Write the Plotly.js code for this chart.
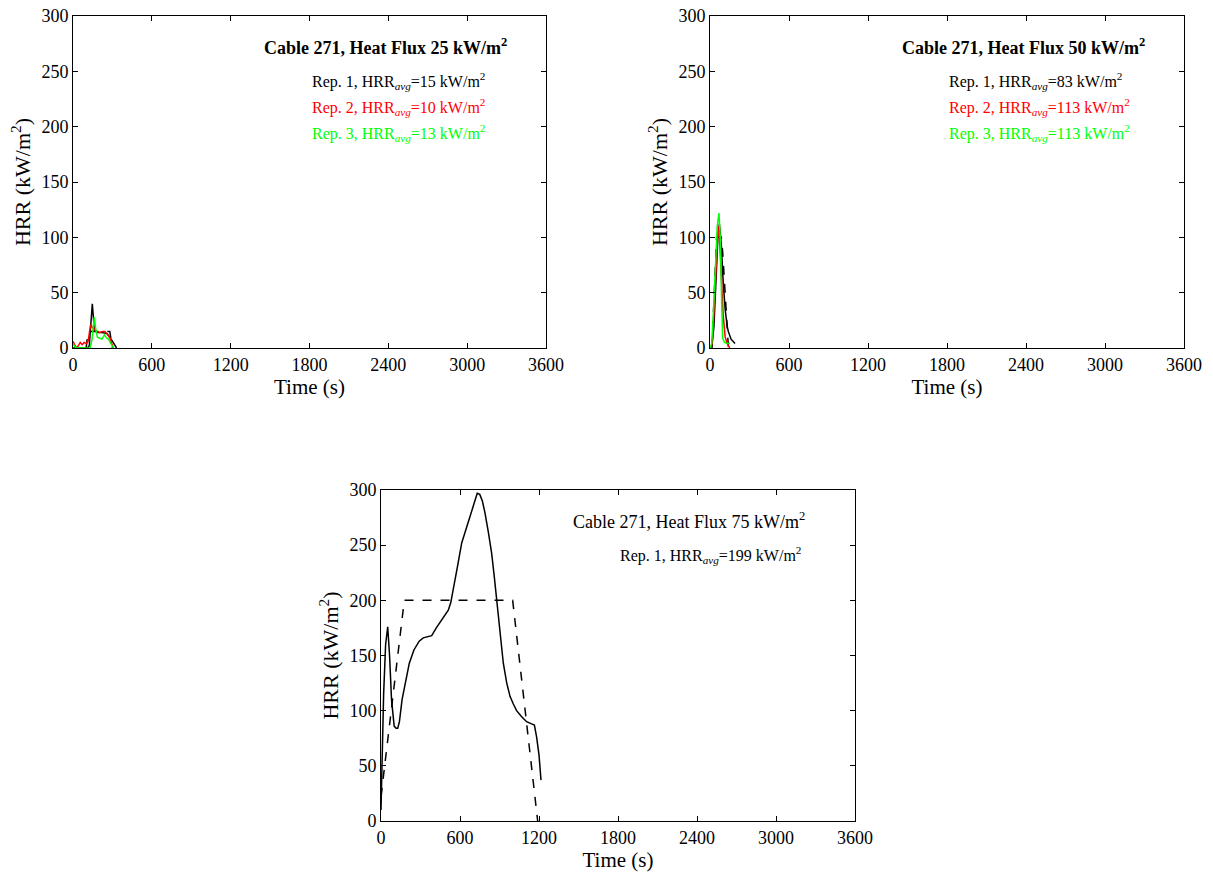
<!DOCTYPE html>
<html>
<head>
<meta charset="utf-8">
<script src="https://cdn.plot.ly/plotly-3.0.1.min.js"></script>
<style>html,body{margin:0;padding:0;background:#fff;}#chart{width:1213px;height:873px;}</style>
</head>
<body>
<div id="chart"></div>
<script>
// ---- Panel 1: Heat Flux 25 kW/m2 ----
const p1_rep1_t = [0, 60, 110, 124, 135, 147, 155, 162, 175, 190, 220, 260, 290, 320, 332];
const p1_rep1_y = [0, 0, 0, 2, 25, 40, 28, 16, 15, 14, 14, 13, 8, 2, 0];
const p1_rep2_t = [0, 10, 25, 40, 55, 70, 85, 100, 115, 125, 134, 145, 160, 180, 205, 225, 244, 262, 282, 295, 307];
const p1_rep2_y = [6, 3, 0, 2, 5, 3, 5, 4, 6, 14, 21, 19, 17, 15, 14, 15, 15, 12, 9, 4, 0];
const p1_rep3_t = [0, 15, 30, 60, 100, 130, 145, 155, 162, 172, 185, 200, 220, 240, 255, 270, 285, 300, 307];
const p1_rep3_y = [4, 1, 0, 0, 0, 0, 8, 22, 28, 18, 10, 9, 8, 12, 9, 8, 5, 1, 0];
const p1_avg_t = [100, 115, 280, 300];
const p1_avg_y = [0, 15, 15, 0];

// ---- Panel 2: Heat Flux 50 kW/m2 ----
const p2_rep1_t = [0, 15, 30, 45, 60, 71, 85, 100, 115, 130, 139, 160, 190];
const p2_rep1_y = [0, 2, 20, 65, 100, 112, 95, 60, 35, 20, 15, 8, 4];
const p2_rep2_t = [0, 10, 20, 35, 50, 62, 72, 85, 100, 115, 130, 150];
const p2_rep2_y = [2, 0, 10, 45, 90, 110, 100, 70, 30, 10, 4, 0];
const p2_rep3_t = [0, 13, 25, 40, 55, 68, 78, 88, 96, 110, 130, 152];
const p2_rep3_y = [0, 4, 30, 75, 110, 122, 100, 45, 9, 5, 4, 4];
const p2_avg_t = [15, 50, 85, 96, 131, 140];
const p2_avg_y = [0, 100, 100, 87, 18, 0];

// ---- Panel 3: Heat Flux 75 kW/m2 ----
const p3_rep1_t = [0, 10, 20, 35, 51, 65, 80, 100, 115, 127, 140, 160, 190, 215, 250, 290, 321, 350, 385, 420, 448, 480, 511, 530, 549, 580, 613, 645, 676, 705, 731, 750, 770, 790, 815, 840, 860, 878, 905, 929, 955, 980, 1005, 1030, 1065, 1106, 1144, 1165, 1182, 1200, 1215];
const p3_rep1_y = [10, 60, 115, 160, 176, 150, 110, 86, 84, 84, 90, 110, 130, 143, 155, 163, 166, 167, 168, 175, 180, 186, 191, 198, 209, 230, 252, 265, 276, 287, 297, 296, 290, 279, 262, 243, 222, 200, 170, 143, 125, 113, 106, 100, 95, 90, 88, 87, 76, 60, 37];
const p3_avg_t = [0, 177, 1000, 1190];
const p3_avg_y = [22, 200, 200, 0];

// ---- Axis ticks ----
const xTicks = [0, 600, 1200, 1800, 2400, 3000, 3600];
const yTicks = [0, 50, 100, 150, 200, 250, 300];

// ---- Text ----
const titles = ['Cable 271, Heat Flux 25 kW/m<sup>2</sup>', 'Cable 271, Heat Flux 50 kW/m<sup>2</sup>', 'Cable 271, Heat Flux 75 kW/m<sup>2</sup>'];
const p1_labels = ['Rep. 1, HRR<sub><i>avg</i></sub>=15 kW/m<sup>2</sup>', 'Rep. 2, HRR<sub><i>avg</i></sub>=10 kW/m<sup>2</sup>', 'Rep. 3, HRR<sub><i>avg</i></sub>=13 kW/m<sup>2</sup>'];
const p2_labels = ['Rep. 1, HRR<sub><i>avg</i></sub>=83 kW/m<sup>2</sup>', 'Rep. 2, HRR<sub><i>avg</i></sub>=113 kW/m<sup>2</sup>', 'Rep. 3, HRR<sub><i>avg</i></sub>=113 kW/m<sup>2</sup>'];
const p3_labels = ['Rep. 1, HRR<sub><i>avg</i></sub>=199 kW/m<sup>2</sup>'];
const repColors = ['#000000', '#ff0000', '#00ff00'];

const FONT = 'Liberation Serif, Times New Roman, serif';
const W = 1213, H = 873;

function line(t, y, color, axis, dash) {
  return {x: t, y: y, type: 'scatter', mode: 'lines', xaxis: 'x' + axis, yaxis: 'y' + axis,
    line: {color: color, width: 1.5, dash: dash || 'solid'}, showlegend: false, hoverinfo: 'skip'};
}

const traces = [
  line(p1_avg_t, p1_avg_y, '#000', '', 'dash'),
  line(p1_rep1_t, p1_rep1_y, repColors[0], ''),
  line(p1_rep2_t, p1_rep2_y, repColors[1], ''),
  line(p1_rep3_t, p1_rep3_y, repColors[2], ''),
  line(p2_avg_t, p2_avg_y, '#000', '2', 'dash'),
  line(p2_rep1_t, p2_rep1_y, repColors[0], '2'),
  line(p2_rep2_t, p2_rep2_y, repColors[1], '2'),
  line(p2_rep3_t, p2_rep3_y, repColors[2], '2'),
  line(p3_avg_t, p3_avg_y, '#000', '3', 'dash'),
  line(p3_rep1_t, p3_rep1_y, repColors[0], '3'),
];

function xax(domain, anchor) {
  return {domain: domain, anchor: anchor, range: [0, 3600], tickvals: xTicks, ticktext: xTicks.map(String),
    ticks: 'inside', ticklen: 5, tickcolor: '#000', showline: true, linecolor: '#000', linewidth: 1, mirror: 'ticks',
    showgrid: false, zeroline: false, tickfont: {family: FONT, size: 18, color: '#000'},
    title: {text: 'Time (s)', font: {family: FONT, size: 21, color: '#000'}, standoff: 2}};
}
function yax(domain, anchor) {
  return {domain: domain, anchor: anchor, range: [0, 300], tickvals: yTicks, ticktext: yTicks.map(String),
    ticks: 'inside', ticklen: 5, tickcolor: '#000', showline: true, linecolor: '#000', linewidth: 1, mirror: 'ticks',
    showgrid: false, zeroline: false, tickfont: {family: FONT, size: 18, color: '#000'},
    title: {text: 'HRR (kW/m<sup>2</sup>)', font: {family: FONT, size: 22, color: '#000'}, standoff: 4}};
}

const dx1 = [73 / W, 546 / W], dx2 = [710 / W, 1184 / W], dx3 = [381 / W, 855 / W];
const dyTop = [1 - 348 / H, 1 - 16 / H], dyBot = [1 - 821 / H, 1 - 490 / H];

const annotations = [];
function addText(axis, labels, title, bold) {
  const xr = 'x' + axis + ' domain', yr = 'y' + axis + ' domain';
  annotations.push({xref: xr, yref: yr, x: 0.40, y: 0.907, xanchor: 'left', yanchor: 'middle', showarrow: false,
    text: bold ? '<b>' + title + '</b>' : title, font: {family: FONT, size: 18, color: '#000'}});
  const ys = [0.804, 0.726, 0.648];
  labels.forEach((lb, i) => annotations.push({xref: xr, yref: yr, x: 0.50, y: ys[i], xanchor: 'left', yanchor: 'middle',
    showarrow: false, text: lb, font: {family: FONT, size: 16, color: repColors[i]}}));
}
addText('', p1_labels, titles[0], true);
addText('2', p2_labels, titles[1], true);
addText('3', p3_labels, titles[2], false);

const layout = {
  width: W, height: H, margin: {l: 0, r: 0, t: 0, b: 0}, paper_bgcolor: '#fff', plot_bgcolor: '#fff',
  showlegend: false,
  xaxis: xax(dx1, 'y'), yaxis: yax(dyTop, 'x'),
  xaxis2: xax(dx2, 'y2'), yaxis2: yax(dyTop, 'x2'),
  xaxis3: xax(dx3, 'y3'), yaxis3: yax(dyBot, 'x3'),
  annotations: annotations
};

Plotly.newPlot('chart', traces, layout, {displayModeBar: false, staticPlot: true});
</script>
</body>
</html>
